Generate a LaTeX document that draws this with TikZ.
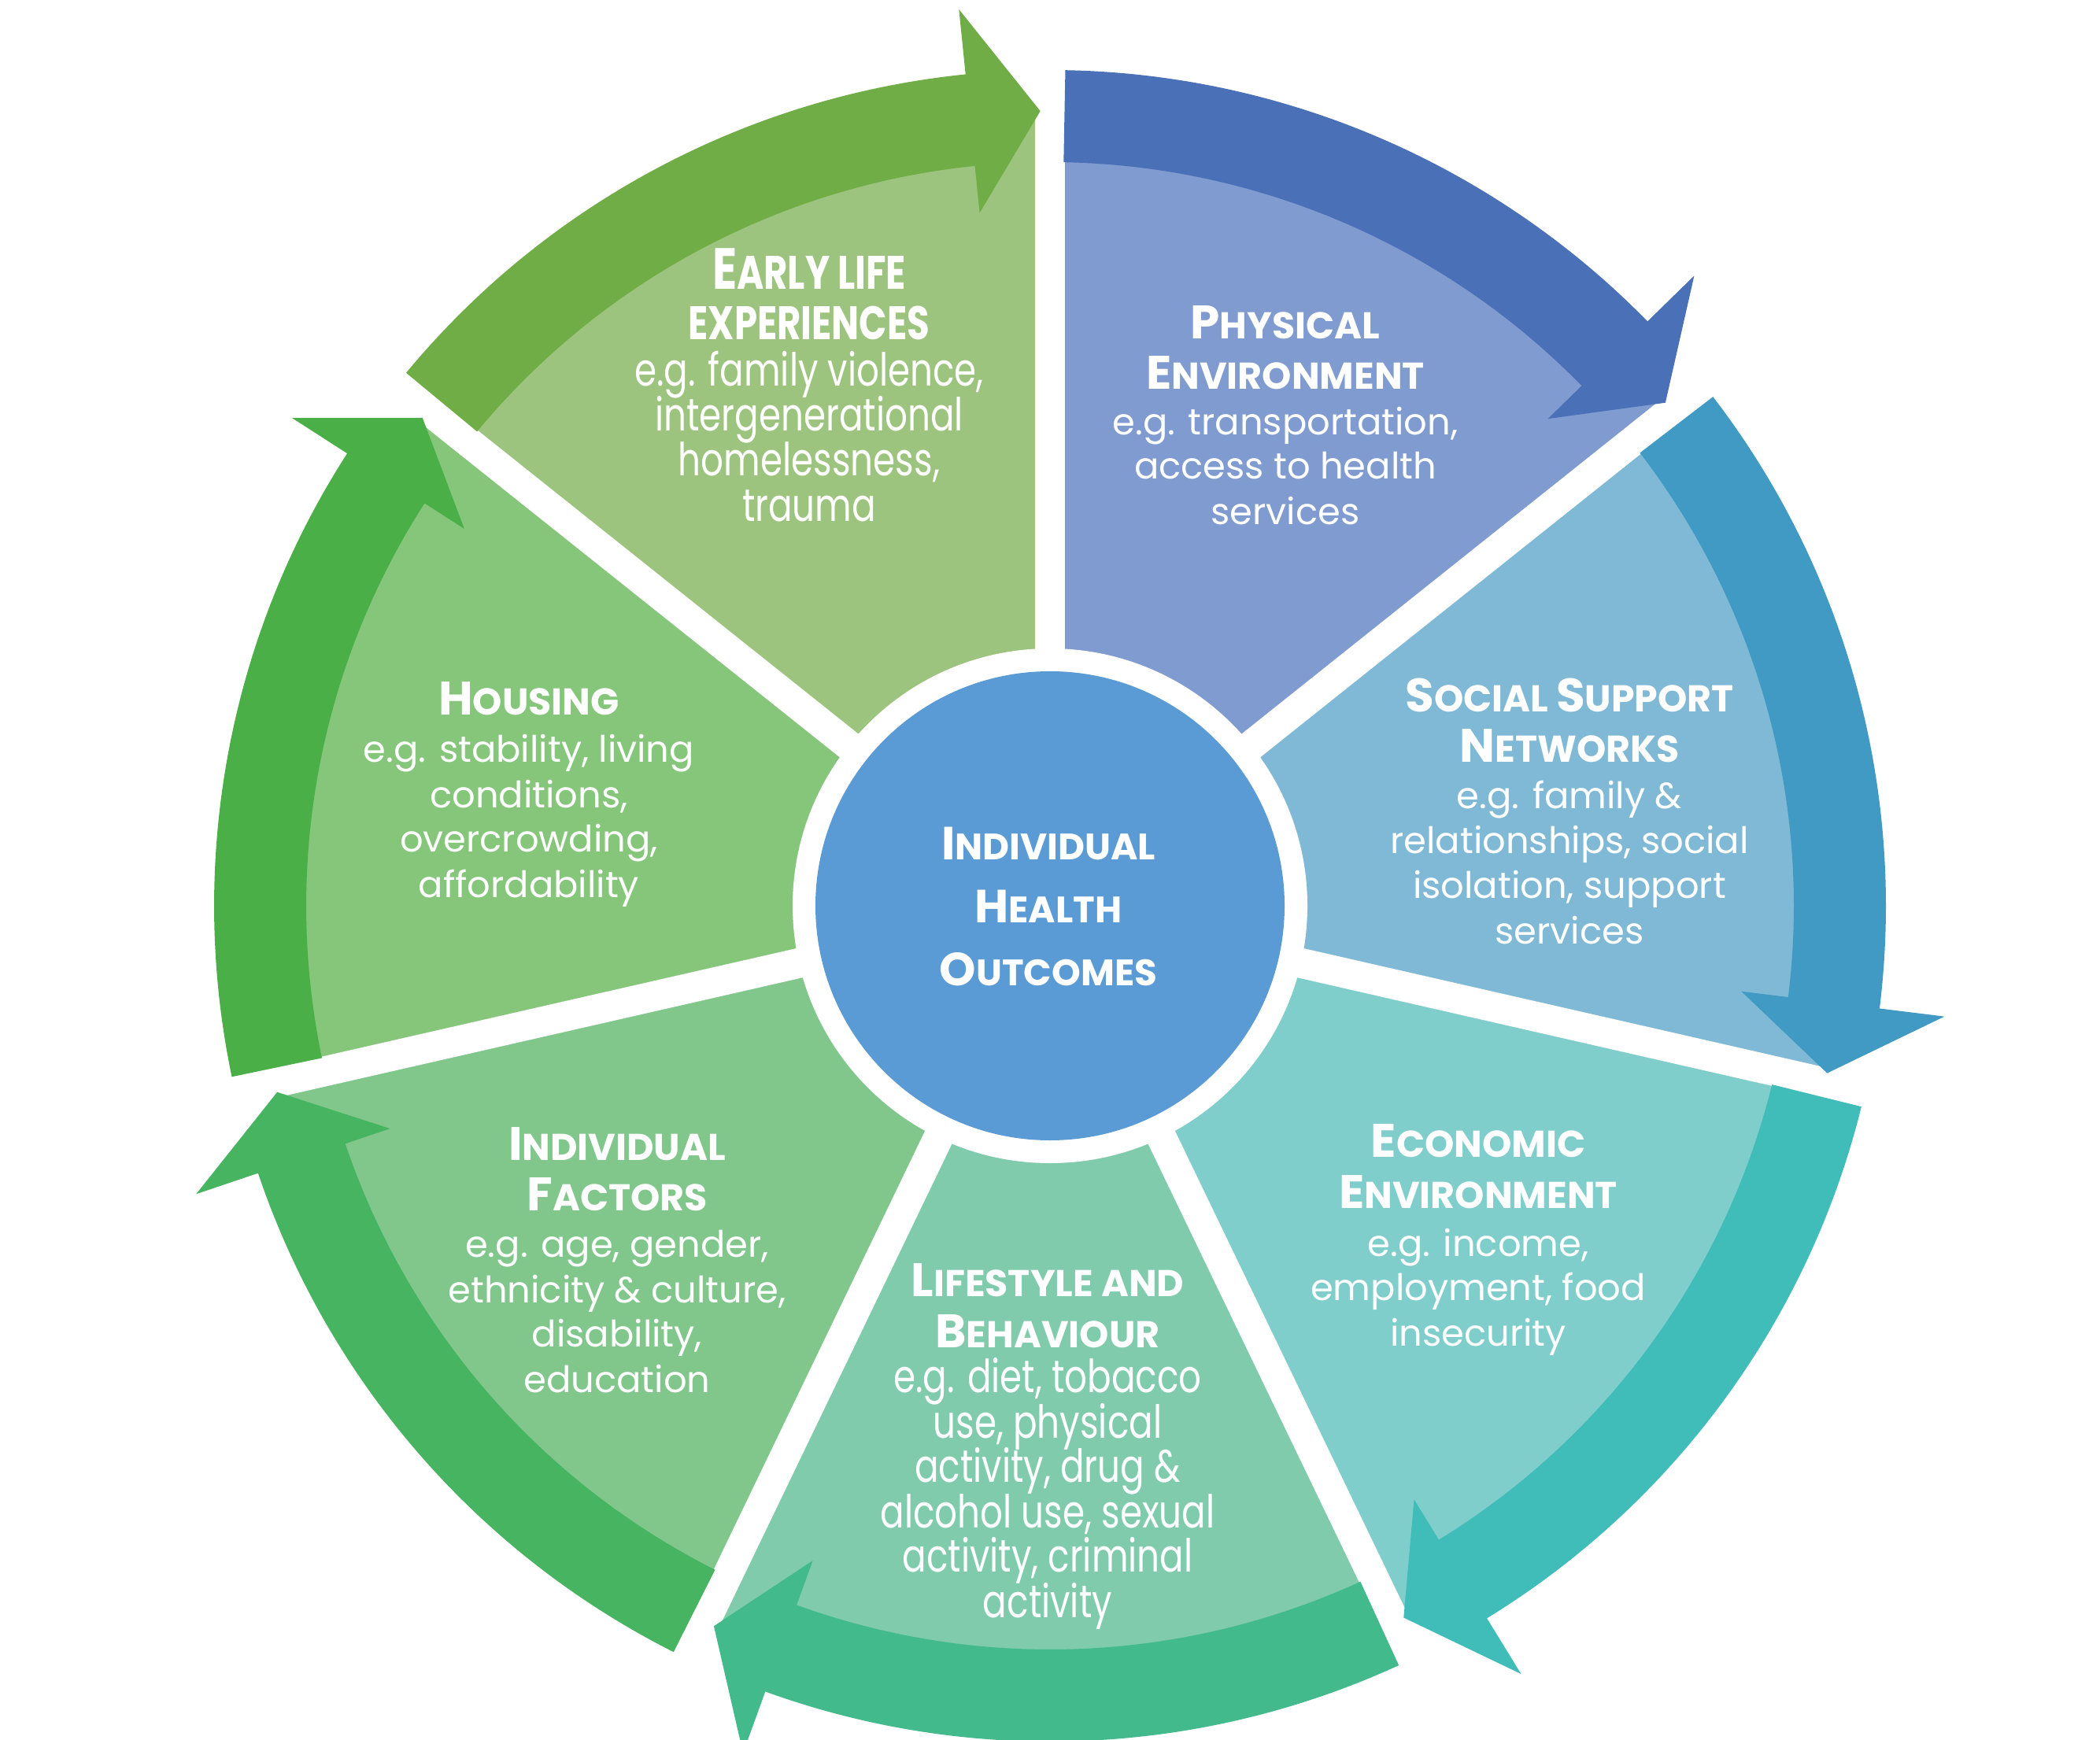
\documentclass[tikz,border=0pt]{standalone}
\usepackage{fontspec}
\setmainfont{Poppins}
\newfontfamily\condfont[FakeStretch=0.78]{Poppins}
\definecolor{elBand}{HTML}{70AD47}
\definecolor{elLight}{HTML}{9DC47E}
\definecolor{peBand}{HTML}{4A70B8}
\definecolor{peLight}{HTML}{7F9BCF}
\definecolor{ssBand}{HTML}{409AC4}
\definecolor{ssLight}{HTML}{7FB9D6}
\definecolor{ecBand}{HTML}{40BCB9}
\definecolor{ecLight}{HTML}{7FCECB}
\definecolor{lsBand}{HTML}{42BA8B}
\definecolor{lsLight}{HTML}{7FCBAB}
\definecolor{ifBand}{HTML}{47B461}
\definecolor{ifLight}{HTML}{81C78C}
\definecolor{hoBand}{HTML}{4BAF48}
\definecolor{hoLight}{HTML}{85C67B}
\definecolor{ctrBlue}{HTML}{5B9BD5}
\newcommand\wRl{10.1}
\newcommand\wRi{9.45}
\newcommand\wRo{10.62}
\newcommand\wHi{8.85}
\newcommand\wHo{11.45}
\newcommand\wRt{10.1}
\newcommand\secwedge[2]{%
  \pgfmathsetmacro\wA{#1}%
  \pgfmathsetmacro\wB{#1-360/7}%
  \fill[#2] (0,0) -- (\wA:\wRl) arc[start angle=\wA, end angle=\wB, radius=\wRl] -- cycle;}
\newcommand\secband[2]{%
  \pgfmathsetmacro\bT{#1-1.05}%
  \pgfmathsetmacro\bH{#1-360/7+5.8}%
  \pgfmathsetmacro\bP{#1-360/7+0.7}%
  \fill[#2] (\bT:\wRi) arc[start angle=\bT, end angle=\bH, radius=\wRi] -- (\bH:\wHi) -- (\bP:\wRt) -- (\bH:\wHo) -- (\bH:\wRo) arc[start angle=\bH, end angle=\bT, radius=\wRo] -- cycle;}
\newcommand\hcap[1]{{\fontsize{17}{17}\selectfont #1}}
\newcommand\chcap[1]{{\fontsize{21}{21}\selectfont #1}}
\newcommand\ccap[1]{{\fontsize{16.8}{16.8}\selectfont #1}}
\tikzset{
  txt/.style={text=white, inner sep=0pt, anchor=base},
  hd/.style={txt, font=\bfseries\fontsize{13.5}{13.5}\selectfont},
  bd/.style={txt, font=\fontsize{13.2}{13.2}\selectfont},
  chd/.style={txt, font=\condfont\bfseries\fontsize{17}{17}\selectfont},
  cbd/.style={txt, font=\condfont\fontsize{16.5}{16.5}\selectfont},
  ctr/.style={txt, font=\bfseries\fontsize{13.3}{13.3}\selectfont},
  gapline/.style={white, line width=0.38cm}
}
\begin{document}
\begin{tikzpicture}
\useasboundingbox (0,0) rectangle (26.68,22.10);
\fill[white] (0,0) rectangle (26.68,22.10);
\begin{scope}[shift={(13.34,10.59)}]
  % light wedges
  \secwedge{90}{peLight}
  \secwedge{38.5714}{ssLight}
  \secwedge{-12.8571}{ecLight}
  \secwedge{-64.2857}{lsLight}
  \secwedge{-115.7143}{ifLight}
  \secwedge{-167.1429}{hoLight}
  \secwedge{141.4286}{elLight}
  % gaps
  \foreach \a in {90,38.5714,-12.8571,-64.2857,-115.7143,-167.1429,141.4286}
    \draw[gapline] (0,0) -- (\a:10.5);
  % centre ring
  \fill[white] (0,0) circle[radius=3.27];
  \fill[ctrBlue] (0,0) circle[radius=2.98];
  % arrow bands
  \secband{90}{peBand}
  \secband{38.5714}{ssBand}
  \secband{-12.8571}{ecBand}
  \secband{-64.2857}{lsBand}
  \secband{-115.7143}{ifBand}
  \secband{-167.1429}{hoBand}
  \secband{141.4286}{elBand}
\end{scope}
% Early life experiences
\node[chd] (el1) at (10.28,18.42) {\chcap{E}ARLY LIFE};
\node[chd] (el2) at (10.28,17.78) {EXPERIENCES};
\node[cbd] (el3) at (10.28,17.19) {e.g. family violence,};
\node[cbd] (el4) at (10.28,16.62) {intergenerational};
\node[cbd] (el5) at (10.28,16.05) {homelessness,};
\node[cbd] (el6) at (10.28,15.47) {trauma};
% Physical environment
\node[hd] (pe1) at (16.33,17.79) {\hcap{P}HYSICAL};
\node[hd] (pe2) at (16.33,17.15) {\hcap{E}NVIRONMENT};
\node[bd] (pe3) at (16.33,16.57) {e.g. transportation,};
\node[bd] (pe4) at (16.33,16.01) {access to health};
\node[bd] (pe5) at (16.33,15.43) {services};
% Social support networks
\node[hd] (ss1) at (19.94,13.06) {\hcap{S}OCIAL \hcap{S}UPPORT};
\node[hd] (ss2) at (19.94,12.42) {\hcap{N}ETWORKS};
\node[bd] (ss3) at (19.94,11.83) {e.g. family \&};
\node[bd] (ss4) at (19.94,11.26) {relationships, social};
\node[bd] (ss5) at (19.94,10.69) {isolation, support};
\node[bd] (ss6) at (19.94,10.11) {services};
% Economic environment
\node[hd] (ec1) at (18.78,7.40) {\hcap{E}CONOMIC};
\node[hd] (ec2) at (18.78,6.75) {\hcap{E}NVIRONMENT};
\node[bd] (ec3) at (18.78,6.14) {e.g. income,};
\node[bd] (ec4) at (18.78,5.58) {employment, food};
\node[bd] (ec5) at (18.78,5.00) {insecurity};
% Lifestyle and behaviour
\node[hd] (ls1) at (13.31,5.63) {\hcap{L}IFESTYLE AND};
\node[hd] (ls2) at (13.31,4.98) {\hcap{B}EHAVIOUR};
\node[cbd] (ls3) at (13.31,4.41) {e.g. diet, tobacco};
\node[cbd] (ls4) at (13.31,3.83) {use, physical};
\node[cbd] (ls5) at (13.31,3.27) {activity, drug \&};
\node[cbd] (ls6) at (13.31,2.69) {alcohol use, sexual};
\node[cbd] (ls7) at (13.31,2.13) {activity, criminal};
\node[cbd] (ls8) at (13.31,1.55) {activity};
% Individual factors
\node[hd] (if1) at (7.84,7.36) {\hcap{I}NDIVIDUAL};
\node[hd] (if2) at (7.84,6.72) {\hcap{F}ACTORS};
\node[bd] (if3) at (7.84,6.13) {e.g. age, gender,};
\node[bd] (if4) at (7.84,5.55) {ethnicity \& culture,};
\node[bd] (if5) at (7.84,4.99) {disability,};
\node[bd] (if6) at (7.84,4.41) {education};
% Housing
\node[hd] (ho1) at (6.72,13.01) {\hcap{H}OUSING};
\node[bd] (ho2) at (6.72,12.42) {e.g. stability, living};
\node[bd] (ho3) at (6.72,11.84) {conditions,};
\node[bd] (ho4) at (6.72,11.28) {overcrowding,};
\node[bd] (ho5) at (6.72,10.70) {affordability};
% Centre
\node[ctr] (c1) at (13.32,11.18) {\ccap{I}NDIVIDUAL};
\node[ctr] (c2) at (13.32,10.38) {\ccap{H}EALTH};
\node[ctr] (c3) at (13.32,9.58) {\ccap{O}UTCOMES};
\end{tikzpicture}
\end{document}
